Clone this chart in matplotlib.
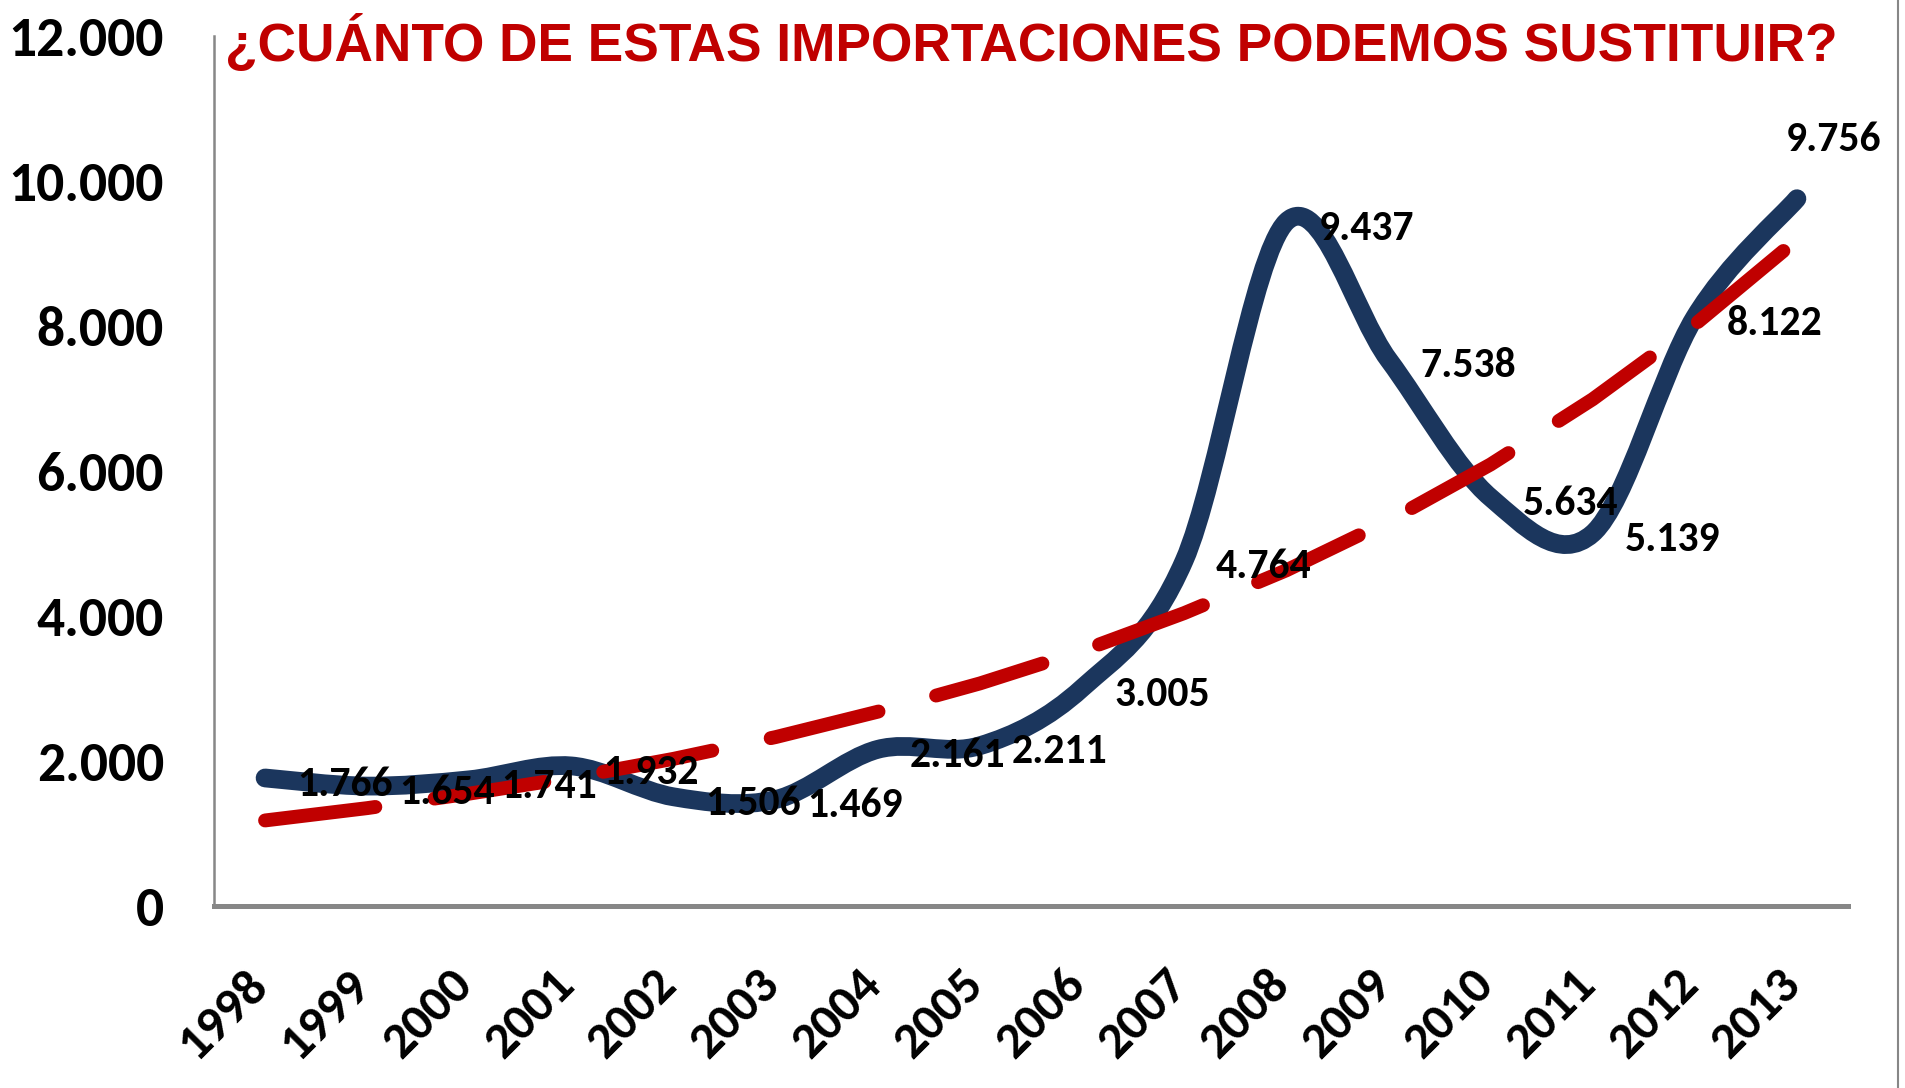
import numpy as np
import matplotlib
matplotlib.use("Agg")
import matplotlib.pyplot as plt
import matplotlib.transforms as mtransforms
from matplotlib import font_manager
from matplotlib.path import Path
from matplotlib.patches import PathPatch
from matplotlib.lines import Line2D
from matplotlib.ticker import FuncFormatter

# data
years = ['1998', '1999', '2000', '2001', '2002', '2003', '2004', '2005',
         '2006', '2007', '2008', '2009', '2010', '2011', '2012', '2013']
imports = [1766, 1654, 1741, 1932, 1506, 1469, 2161, 2211,
           3005, 4764, 9437, 7538, 5634, 5139, 8122, 9756]
trend = [1180, 1350, 1550, 1770, 2030, 2330, 2680, 3070,
         3520, 4040, 4630, 5310, 6090, 6990, 8020, 9190]
title = '¿CUÁNTO DE ESTAS IMPORTACIONES PODEMOS SUSTITUIR?'

names = {f.name for f in font_manager.fontManager.ttflist}
main_font = 'Lato'
for cand in ['Carlito', 'Liberation Sans Narrow', 'Lato']:
    if cand in names:
        main_font = cand
        break
plt.rcParams['font.family'] = [main_font, 'DejaVu Sans']

navy = '#1b365d'
red = '#c00000'
gray = '#878787'

fig = plt.figure(figsize=(19.06, 10.88), dpi=100)
ax = fig.add_axes([214 / 1906, 1 - 906 / 1088, (1848 - 214) / 1906, (906 - 36) / 1088])

x = np.arange(len(years))
y = np.array(imports, dtype=float)

# smoothed line (catmull-rom -> bezier), like excel's smoothed series
pts = np.column_stack([x, y])
ext = np.vstack([pts[0], pts, pts[-1]])
verts = [tuple(pts[0])]
codes = [Path.MOVETO]
for i in range(len(pts) - 1):
    p0, p1, p2, p3 = ext[i], ext[i + 1], ext[i + 2], ext[i + 3]
    c1 = p1 + (p2 - p0) / 6
    c2 = p2 - (p3 - p1) / 6
    verts += [tuple(c1), tuple(c2), tuple(p2)]
    codes += [Path.CURVE4] * 3
ax.add_patch(PathPatch(Path(verts, codes), fill=False, edgecolor=navy,
                       lw=13.5, capstyle='round', joinstyle='round', zorder=3))

# trend line, dashed red
ax.plot(x, trend, color=red, lw=10, dashes=(8, 4.3),
        dash_capstyle='round', solid_capstyle='round', zorder=4)

# data labels
for i, v in enumerate(imports):
    lab = '{:,}'.format(v).replace(',', '.')
    if i == len(imports) - 1:
        ax.annotate(lab, (i, v), xytext=(26, 45), textcoords='offset points',
                    ha='center', va='center_baseline', fontsize=30, fontweight='bold', zorder=5)
    else:
        ax.annotate(lab, (i, v), xytext=(23, -2), textcoords='offset points',
                    ha='left', va='center_baseline', fontsize=30, fontweight='bold', zorder=5)

ax.set_xlim(-0.5, len(years) - 0.5)
ax.set_ylim(0, 12000)
ax.set_yticks(np.arange(0, 12001, 2000))
ax.yaxis.set_major_formatter(FuncFormatter(lambda v, p: '{:,.0f}'.format(v).replace(',', '.')))
ax.set_xticks(x)
ax.set_xticklabels(years, rotation=45, ha='right', va='top', rotation_mode='default')
ax.tick_params(axis='y', length=0, pad=36, labelsize=40)
ax.tick_params(axis='x', length=0, pad=40, labelsize=37)
shift = mtransforms.ScaledTranslation(8 / 72, 0, fig.dpi_scale_trans)
for t in ax.get_xticklabels():
    t.set_transform(t.get_transform() + shift)
for t in ax.get_yticklabels() + ax.get_xticklabels():
    t.set_fontweight('bold')

for s in ['top', 'right']:
    ax.spines[s].set_visible(False)
ax.spines['left'].set_color(gray)
ax.spines['left'].set_linewidth(1.8)
ax.spines['bottom'].set_color(gray)
ax.spines['bottom'].set_linewidth(3.6)

fig.text(225 / 1906, 1 - 61 / 1088, title, color=red, fontsize=38.3, fontweight='bold',
         family=['Liberation Sans', 'DejaVu Sans'], ha='left', va='baseline')

fig.add_artist(Line2D([1898 / 1906, 1898 / 1906], [0, 1], color=gray, lw=1.5,
                      transform=fig.transFigure))

fig.savefig('out.png', dpi=100)
plt.close()
